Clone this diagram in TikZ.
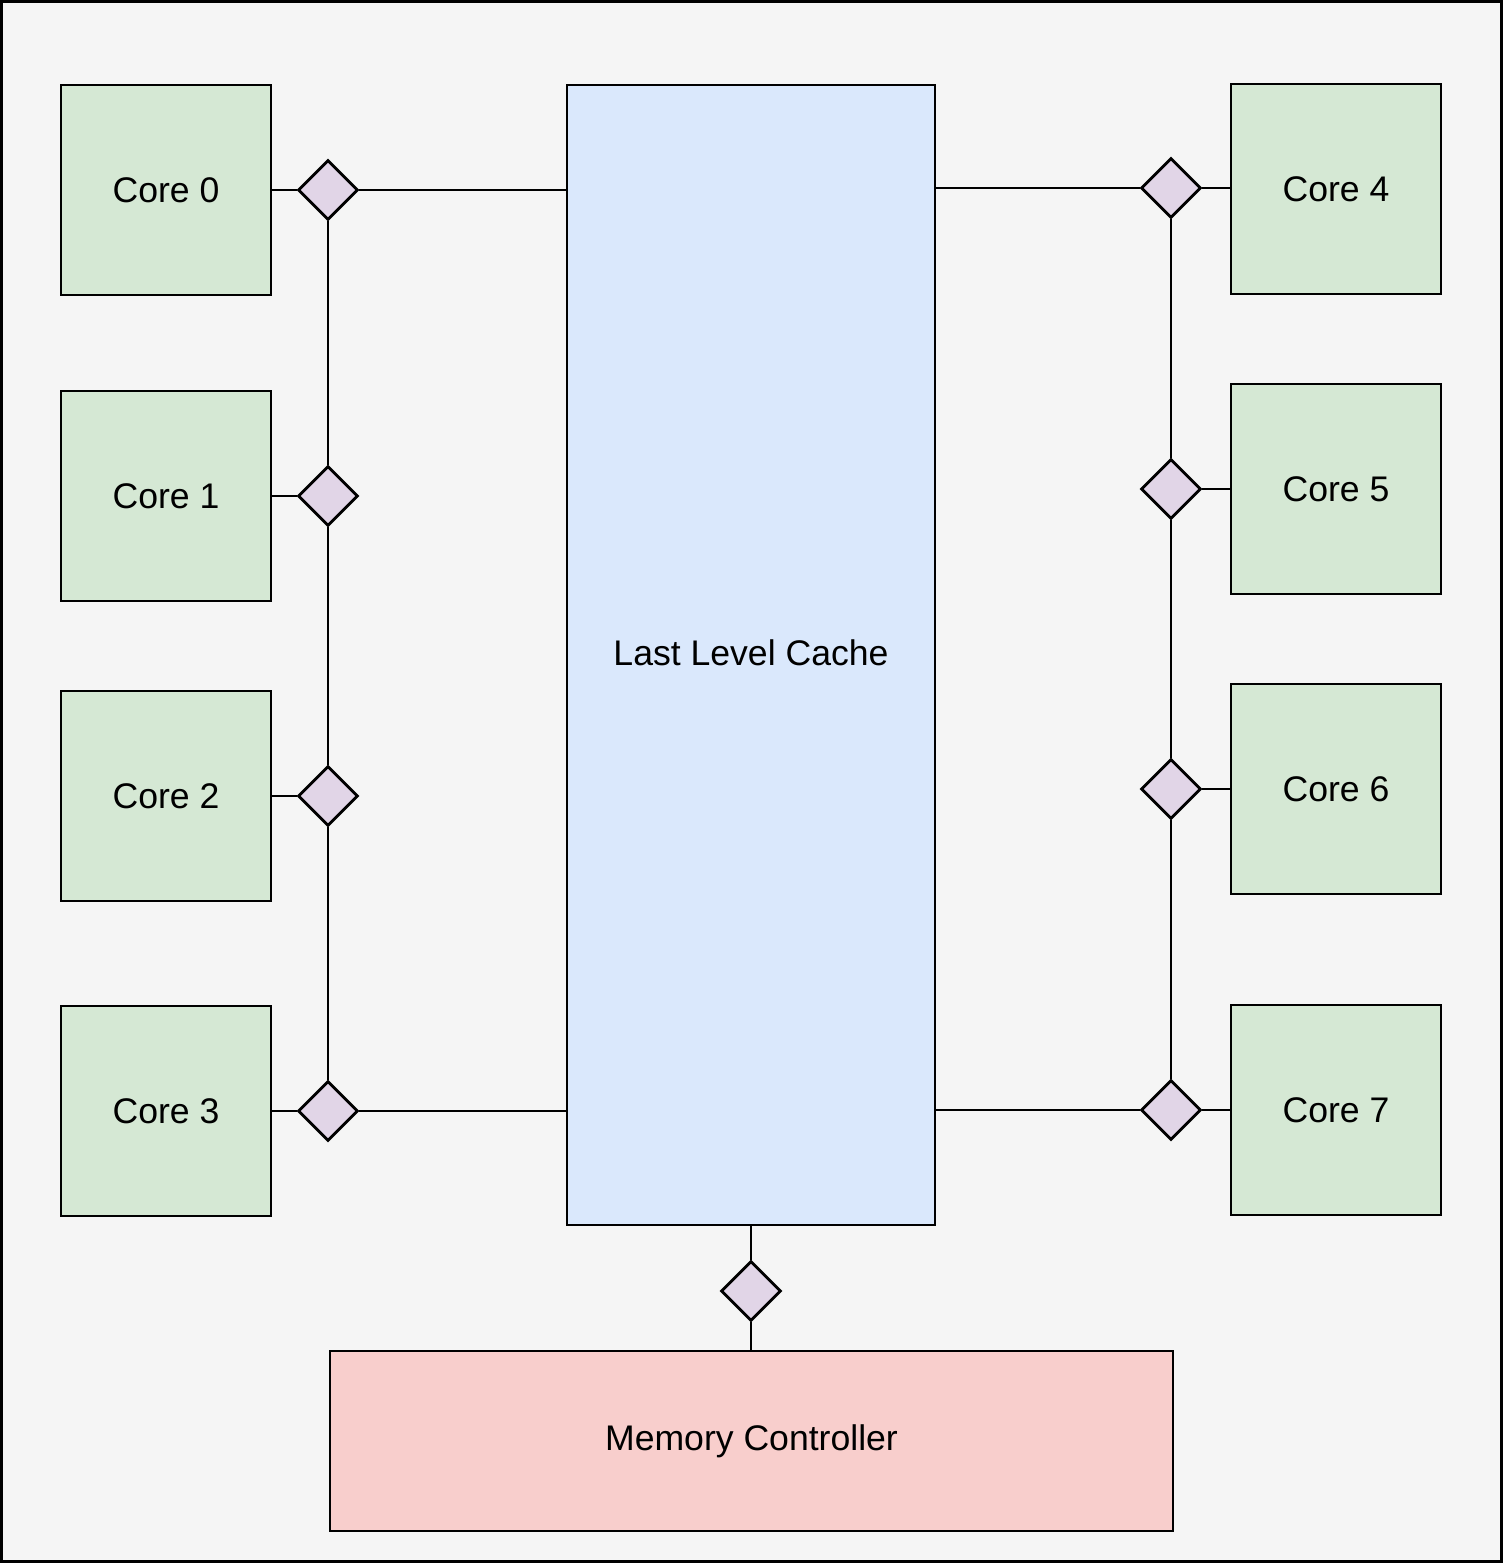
\documentclass[tikz,border=0pt]{standalone}
\usepackage{fontspec}
\setmainfont{Liberation Sans}
\usetikzlibrary{shapes.geometric}
\definecolor{bgc}{HTML}{F5F5F5}
\definecolor{corec}{HTML}{D5E8D4}
\definecolor{llcc}{HTML}{DAE8FC}
\definecolor{mcc}{HTML}{F8CECC}
\definecolor{dmc}{HTML}{E1D5E7}
\begin{document}
\begin{tikzpicture}[x=0.5pt,y=-0.5pt,
  every node/.style={font=\fontsize{17.8}{21}\selectfont},
  corebox/.style={draw=black,line width=1.4pt,fill=corec,minimum width=105pt,minimum height=105pt,inner sep=0pt},
  llcbox/.style={draw=black,line width=1.4pt,fill=llcc,minimum width=184pt,minimum height=570pt,inner sep=0pt},
  mcbox/.style={draw=black,line width=1.4pt,fill=mcc,minimum width=421.5pt,minimum height=90pt,inner sep=0pt},
  port/.style={diamond,draw=black,line width=1.4pt,fill=dmc,minimum width=30pt,minimum height=30pt,inner sep=0pt,aspect=1},
  link/.style={draw=black,line width=1.4pt}]
\useasboundingbox (0,0) rectangle (1503,1563);
\path[fill=bgc,draw=black,line width=1.5pt] (1.5,1.5) rectangle (1501.5,1561.5);

% cores
\node[corebox] (c0) at (166,190) {Core 0};
\node[corebox] (c1) at (166,496) {Core 1};
\node[corebox] (c2) at (166,796) {Core 2};
\node[corebox] (c3) at (166,1111) {Core 3};
\node[corebox] (c4) at (1336,189) {Core 4};
\node[corebox] (c5) at (1336,489) {Core 5};
\node[corebox] (c6) at (1336,789) {Core 6};
\node[corebox] (c7) at (1336,1110) {Core 7};

% LLC and MC
\node[llcbox] (llc) at (751,655) {};
\node (llct) at (751,653) {Last Level Cache};
\node[mcbox] (mc) at (751.5,1441) {Memory Controller};

% ports
\node[port] (p0) at (328,190) {};
\node[port] (p1) at (328,496) {};
\node[port] (p2) at (328,796) {};
\node[port] (p3) at (328,1111) {};
\node[port] (p4) at (1171,188) {};
\node[port] (p5) at (1171,489) {};
\node[port] (p6) at (1171,789) {};
\node[port] (p7) at (1171,1110) {};
\node[port] (pm) at (751,1291) {};

% links left
\path[link] (c0.east |- p0) -- (p0.west);
\path[link] (c1.east |- p1) -- (p1.west);
\path[link] (c2.east |- p2) -- (p2.west);
\path[link] (c3.east |- p3) -- (p3.west);
\path[link] (p0.south) -- (p1.north);
\path[link] (p1.south) -- (p2.north);
\path[link] (p2.south) -- (p3.north);
\path[link] (p0.east) -- (llc.west |- p0);
\path[link] (p3.east) -- (llc.west |- p3);

% links right
\path[link] (p4.east) -- (c4.west |- p4);
\path[link] (p5.east) -- (c5.west |- p5);
\path[link] (p6.east) -- (c6.west |- p6);
\path[link] (p7.east) -- (c7.west |- p7);
\path[link] (p4.south) -- (p5.north);
\path[link] (p5.south) -- (p6.north);
\path[link] (p6.south) -- (p7.north);
\path[link] (llc.east |- p4) -- (p4.west);
\path[link] (llc.east |- p7) -- (p7.west);

% memory
\path[link] (llc.south) -- (pm.north);
\path[link] (pm.south) -- (mc.north -| pm);
\end{tikzpicture}
\end{document}
